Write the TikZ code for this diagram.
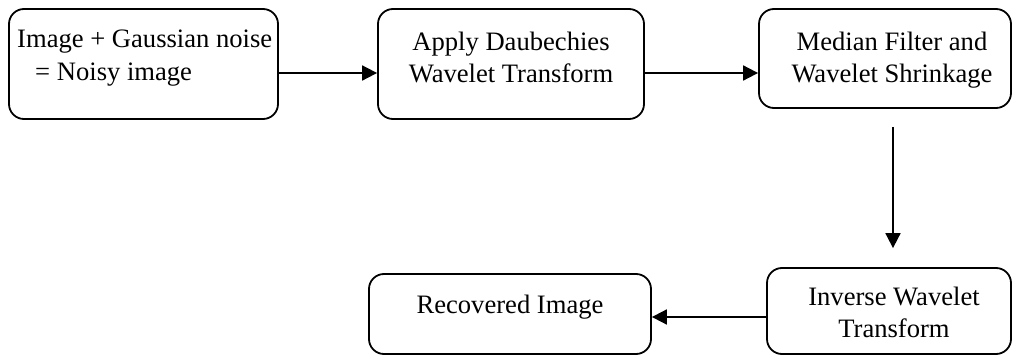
\documentclass[tikz,border=0pt]{standalone}
\usepackage{fontspec}
\setmainfont{Liberation Serif}
\usetikzlibrary{arrows.meta}
\begin{document}
\begin{tikzpicture}[x=1pt,y=-1pt,
  box/.style={draw, line width=1.8pt, rounded corners=15pt, inner sep=0pt},
  txt/.style={anchor=base, inner sep=0pt, font=\fontsize{26.6}{32}\selectfont},
  arr/.style={line width=1.8pt, -{Triangle[length=15pt,width=15pt]}}]
  \useasboundingbox (0,0) rectangle (1013,356);

  % process boxes
  \node[box, minimum width=269pt, minimum height=110pt] (b1) at (143.5,64) {};
  \node[box, minimum width=266pt, minimum height=110pt] (b2) at (511,64) {};
  \node[box, minimum width=252pt, minimum height=99pt] (b3) at (885,58.5) {};
  \node[box, minimum width=244pt, minimum height=86pt] (b4) at (889,311) {};
  \node[box, minimum width=282pt, minimum height=80pt] (b5) at (510,314) {};

  % box captions
  \node[txt, anchor=base west] (t1a) at (17,47) {Image + Gaussian noise};
  \node[txt, anchor=base west] (t1b) at (35,80) {= Noisy image};
  \node[txt] (t2a) at (511,50) {Apply Daubechies};
  \node[txt] (t2b) at (511,82) {Wavelet Transform};
  \node[txt] (t3a) at (892,50) {Median Filter and};
  \node[txt] (t3b) at (892,82) {Wavelet Shrinkage};
  \node[txt] (t4a) at (894,305) {Inverse Wavelet};
  \node[txt] (t4b) at (894,337) {Transform};
  \node[txt] (t5) at (510,313) {Recovered Image};

  % flow arrows
  \draw[arr] ([yshift=-9pt]b1.east) -- ([yshift=-9pt]b2.west);
  \draw[arr] ([yshift=-9pt]b2.east) -- ([yshift=-14.5pt]b3.west);
  \draw[arr] ([xshift=8pt,yshift=-18pt]b3.south) -- ([xshift=4pt,yshift=19pt]b4.north);
  \draw[arr] ([yshift=-6pt]b4.west) -- ([yshift=-6pt]b4.west -| b5.east);
\end{tikzpicture}
\end{document}
